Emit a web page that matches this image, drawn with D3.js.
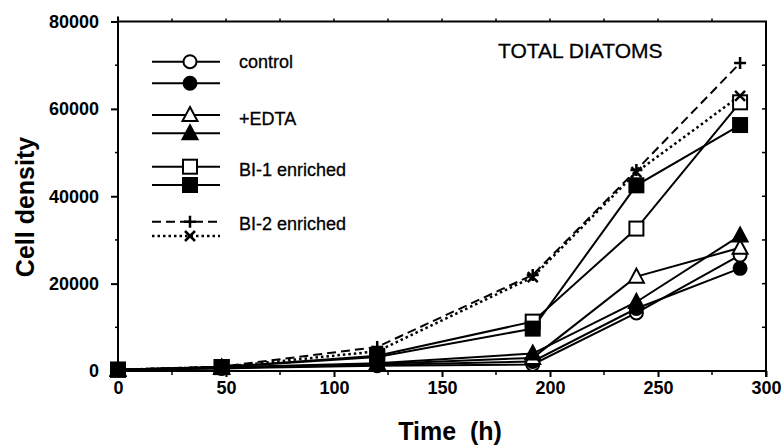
<!DOCTYPE html>
<html><head><meta charset="utf-8">
<script src="https://cdn.jsdelivr.net/npm/d3@7"></script>
<style>body{margin:0;background:#fff;} svg{display:block;}</style>
</head><body>
<svg id="c" width="783" height="446"></svg>
<script>
const time = [0, 48, 120, 192, 240, 288];
const controlOpen   = [300, 600, 1200, 1500, 13300, 26500];
const controlFilled = [300, 700, 1400, 2200, 14300, 23500];
const edtaOpen      = [300, 700, 1600, 3000, 21600, 28200];
const edtaFilled    = [300, 800, 1800, 4000, 15800, 31000];
const bi1Open       = [300, 900, 3500, 11300, 32600, 61500];
const bi1Filled     = [300, 900, 3200, 9700, 42500, 56300];
const bi2Dash       = [300, 1000, 5500, 22000, 46000, 70500];
const bi2Dot        = [300, 900, 4500, 21500, 45500, 63000];
const xTicks = [0, 50, 100, 150, 200, 250, 300];
const yTicks = [0, 20000, 40000, 60000, 80000];
const legendLabels = ["control", "+EDTA", "BI-1 enriched", "BI-2 enriched"];

const series = [
  {v: controlOpen, m: "circle", fill: "#fff", dash: null},
  {v: controlFilled, m: "circle", fill: "#000", dash: null},
  {v: edtaOpen, m: "tri", fill: "#fff", dash: null},
  {v: edtaFilled, m: "tri", fill: "#000", dash: null},
  {v: bi1Open, m: "square", fill: "#fff", dash: null},
  {v: bi1Filled, m: "square", fill: "#000", dash: null},
  {v: bi2Dash, m: "plus", fill: "none", dash: "9,5"},
  {v: bi2Dot, m: "cross", fill: "none", dash: "2.5,3"}
];

const svg = d3.select("#c");
const L = 118, R = 766, T = 21.5, B = 371;
const x = d3.scaleLinear().domain([0, 300]).range([L, R]);
const y = d3.scaleLinear().domain([0, 80000]).range([B, T]);

function marker(g, type, fill, cx, cy) {
  if (type === "circle") {
    g.append("circle").attr("cx", cx).attr("cy", cy).attr("r", 6.5)
      .attr("fill", fill).attr("stroke", "#000").attr("stroke-width", 2);
  } else if (type === "square") {
    g.append("rect").attr("x", cx - 7).attr("y", cy - 7).attr("width", 14).attr("height", 14)
      .attr("fill", fill).attr("stroke", "#000").attr("stroke-width", 2);
  } else if (type === "tri") {
    g.append("path").attr("d", `M${cx},${cy-8}L${cx+7.5},${cy+6}L${cx-7.5},${cy+6}Z`)
      .attr("fill", fill).attr("stroke", "#000").attr("stroke-width", 2);
  } else if (type === "plus") {
    g.append("path").attr("d", `M${cx-6},${cy}H${cx+6}M${cx},${cy-6}V${cy+6}`)
      .attr("stroke", "#000").attr("stroke-width", 2.5);
  } else if (type === "cross") {
    g.append("path").attr("d", `M${cx-5},${cy-5}L${cx+5},${cy+5}M${cx-5},${cy+5}L${cx+5},${cy-5}`)
      .attr("stroke", "#000").attr("stroke-width", 2.5);
  }
}

// axes frame
const ax = svg.append("g").attr("stroke", "#000").attr("stroke-width", 2).attr("fill", "none");
ax.append("path").attr("d", `M${L},${T-5}V${B}H${R+1}`);
ax.append("path").attr("d", `M${L},${T}H${R}V${B+6}`);

const FONT = "Liberation Sans, Arial, Helvetica, sans-serif";
const bottomAxis = d3.axisBottom(x).tickValues(xTicks).tickSize(6).tickFormat(d3.format("d"));
const gb = svg.append("g").attr("transform", `translate(0,${B})`).call(bottomAxis);
gb.select(".domain").remove();
gb.selectAll(".tick line").attr("stroke-width", 2);
gb.selectAll(".tick text").attr("font-family", FONT)
  .attr("font-size", 18).attr("font-weight", "bold").attr("y", 9).attr("dy", "0.8em").attr("fill", "#000");
svg.append("g").selectAll("line").data(d3.range(25, 300, 50)).join("line")
  .attr("x1", d => x(d)).attr("x2", d => x(d)).attr("y1", B).attr("y2", B + 4)
  .attr("stroke", "#000").attr("stroke-width", 1.5);
svg.append("g").selectAll("line").data(d3.range(25, 300, 25)).join("line")
  .attr("x1", d => x(d)).attr("x2", d => x(d)).attr("y1", T).attr("y2", T - 3)
  .attr("stroke", "#000").attr("stroke-width", 1.5);

const leftAxis = d3.axisLeft(y).tickValues(yTicks).tickSize(7).tickFormat(d3.format("d"));
const gl = svg.append("g").attr("transform", `translate(${L},0)`).call(leftAxis);
gl.select(".domain").remove();
gl.selectAll(".tick line").attr("stroke-width", 2);
gl.selectAll(".tick text").attr("font-family", FONT)
  .attr("font-size", 18).attr("font-weight", "bold").attr("x", -19).attr("fill", "#000");
svg.append("g").selectAll("line").data(d3.range(10000, 80000, 20000)).join("line")
  .attr("x1", L).attr("x2", L - 3).attr("y1", d => y(d)).attr("y2", d => y(d))
  .attr("stroke", "#000").attr("stroke-width", 1.5);
svg.append("g").selectAll("line").data(d3.range(10000, 80000, 10000)).join("line")
  .attr("x1", R).attr("x2", R - 4).attr("y1", d => y(d)).attr("y2", d => y(d))
  .attr("stroke", "#000").attr("stroke-width", 1.5);

// series lines
const line = d3.line().x((d, i) => x(time[i])).y(d => y(d));
series.forEach(s => {
  svg.append("path").datum(s.v).attr("d", line).attr("fill", "none")
    .attr("stroke", "#000").attr("stroke-width", s.dash === "2.5,3" ? 2.5 : 2)
    .attr("stroke-dasharray", s.dash);
});
const mg = svg.append("g");
series.forEach(s => {
  s.v.forEach((v, i) => marker(mg, s.m, s.fill, x(time[i]), y(v)));
});

// legend
const lg = svg.append("g");
const legRows = [61.7, 83.3, 115, 133.3, 166.7, 185, 221.7, 236];
series.forEach((s, i) => {
  const ly = legRows[i];
  lg.append("line").attr("x1", 152).attr("x2", 220).attr("y1", ly).attr("y2", ly)
    .attr("stroke", "#000").attr("stroke-width", s.dash === "2.5,3" ? 2.5 : 2)
    .attr("stroke-dasharray", s.dash);
  marker(lg, s.m, s.fill, 190, ly);
});
const legTextY = [68, 125, 176, 230];
legendLabels.forEach((t, i) => {
  lg.append("text").attr("x", 239).attr("y", legTextY[i]).text(t)
    .attr("font-family", FONT).attr("font-size", 18).attr("fill", "#000")
    .attr("stroke", "#000").attr("stroke-width", 0.3);
});

svg.append("text").attr("x", 498).attr("y", 58).text("TOTAL DIATOMS")
  .attr("font-family", FONT).attr("font-size", 21).attr("fill", "#000")
  .attr("stroke", "#000").attr("stroke-width", 0.3);

svg.append("text").attr("transform", `translate(34,207) rotate(-90)`)
  .attr("text-anchor", "middle").text("Cell density")
  .attr("font-family", "Liberation Sans Narrow, Arial Narrow, sans-serif").attr("font-weight", "bold")
  .attr("font-size", 25).attr("fill", "#000");
svg.append("text").attr("x", 450).attr("y", 440).attr("text-anchor", "middle")
  .attr("xml:space", "preserve").text("Time  (h)")
  .attr("font-family", "Liberation Sans Narrow, Arial Narrow, sans-serif").attr("font-weight", "bold")
  .attr("font-size", 25).attr("fill", "#000");
</script>
</body></html>
